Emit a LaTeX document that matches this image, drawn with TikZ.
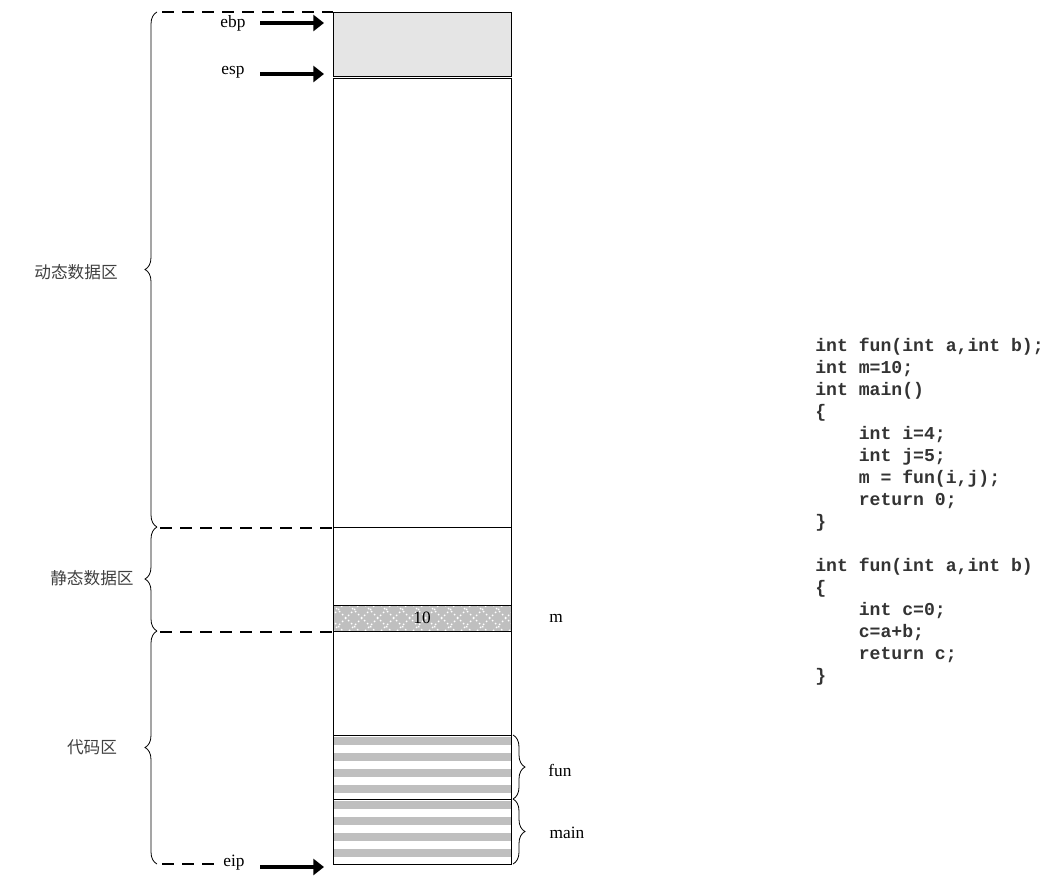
\documentclass[tikz,border=0pt]{standalone}
\usepackage{fontspec}
\setmainfont{Liberation Serif}
\setmonofont{Liberation Mono}
\newfontfamily\cjk{Noto Sans CJK SC}
\usetikzlibrary{decorations.pathreplacing,arrows.meta}
\begin{document}
\begin{tikzpicture}[x=0.75pt,y=-0.75pt,
  cell/.style={draw=black,line width=0.6pt},
  dline/.style={line width=2pt,dash pattern=on 9pt off 6pt},
  ptr/.style={line width=2.6pt,-{Triangle[length=8pt,width=12pt]}},
  brc/.style={decorate,decoration={brace,amplitude=9pt},line width=0.6pt},
  lbl/.style={font=\fontsize{13}{15}\selectfont},
  zh/.style={font=\cjk\fontsize{12.5}{15}\selectfont,text=black!75}]
\useasboundingbox (0,0) rectangle (1057,882);
% stack cells
\fill[black!10] (333,12) rectangle (511,76);
\draw[cell] (333,12) rectangle (511,76);
\draw[cell] (333,78) rectangle (511,527);
\draw[cell] (333,527) rectangle (511,605);
\fill[black!25] (333,605) rectangle (511,631);
\begin{scope}
\clip (333,605) rectangle (511,631);
\foreach \k in {-4,...,12}{
  \draw[white,line width=1pt,dash pattern=on 1.2pt off 2pt] (333+\k*16,605) -- ++(26,26);
  \draw[white,line width=1pt,dash pattern=on 1.2pt off 2pt] (333+\k*16,631) -- ++(26,-26);}
\end{scope}
\draw[cell] (333,605) rectangle (511,631);
\node (ten) at (422,618) [lbl] {10};
\draw[cell] (333,631) rectangle (511,735);
\foreach \y in {737,753,769,785,801,817,833,849}{\fill[black!25] (333,\y) rectangle (511,\y+8);}
\draw[cell] (333,735) rectangle (511,799);
\draw[cell] (333,799) rectangle (511,864);
% left braces
\draw[brc] (157,527) -- (157,12);
\draw[brc] (157,631) -- (157,527);
\draw[brc] (157,864) -- (157,631);
\node (dyn) at (76,272) [zh] {动态数据区};
\node (sta) at (92,578) [zh] {静态数据区};
\node (code) at (92,747) [zh] {代码区};
% dashed
\coordinate (d1a) at (162,12); \coordinate (d1b) at (333,12);
\coordinate (d2a) at (160,528); \coordinate (d2b) at (333,528);
\coordinate (d3a) at (160,632); \coordinate (d3b) at (333,632);
\coordinate (d4a) at (162,864); \coordinate (d4b) at (216,864);
\draw[dline] (d1a) -- (d1b);
\draw[dline] (d2a) -- (d2b);
\draw[dline] (d3a) -- (d3b);
\draw[dline] (d4a) -- (d4b);
% pointers
\node (ebp) at (233,23) [lbl] {ebp};
\node (esp) at (233,72) [lbl] {esp};
\node (eip) at (234,863) [lbl] {eip};
\coordinate (t1) at (324,23); \coordinate (t2) at (324,74); \coordinate (t3) at (324,867);
\draw[ptr] (260,23) -- (t1);
\draw[ptr] (260,74) -- (t2);
\draw[ptr] (260,867) -- (t3);
% right braces
\draw[brc] (513,735) -- (513,799);
\draw[brc] (513,799) -- (513,864);
\node (fun) at (560,770) [lbl] {fun};
\node (main) at (567,833) [lbl] {main};
\node (m) at (556,618) [lbl] {m};
% code
\node (src) at (815,338) [anchor=north west,align=left,inner sep=0pt,
  font=\ttfamily\bfseries\fontsize{13.6}{16.5}\selectfont,text=black!80] {%
int fun(int a,int b);\\
int m=10;\\
int main()\\
\{\\
\ \ \ \ int i=4;\\
\ \ \ \ int j=5;\\
\ \ \ \ m = fun(i,j);\\
\ \ \ \ return 0;\\
\}\\[16.5pt]
int fun(int a,int b)\\
\{\\
\ \ \ \ int c=0;\\
\ \ \ \ c=a+b;\\
\ \ \ \ return c;\\
\}};
\end{tikzpicture}
\end{document}
